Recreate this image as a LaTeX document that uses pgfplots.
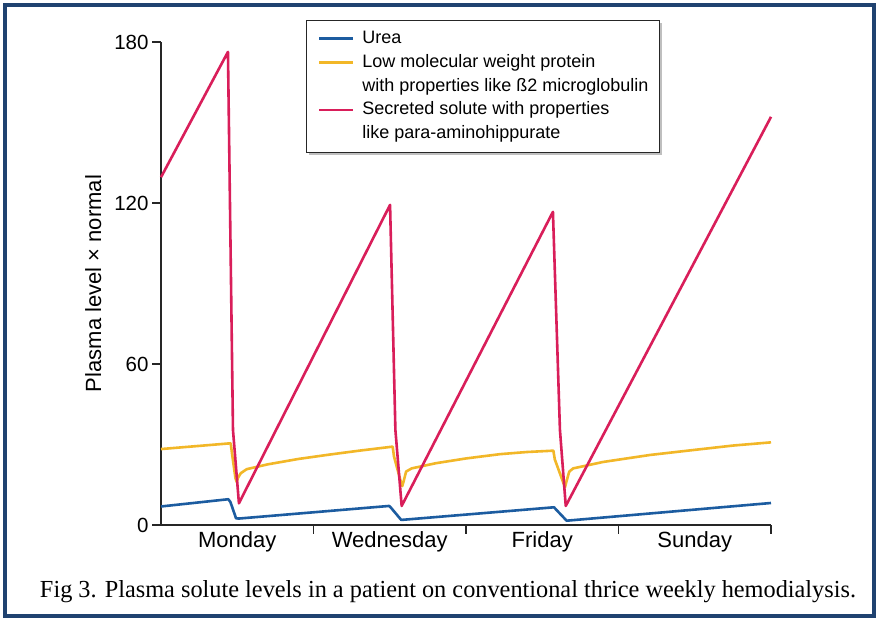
\documentclass[border=0pt]{standalone}
\usepackage{fontspec}
\setmainfont{Liberation Sans}
\newfontfamily\capfont{Liberation Serif}
\usepackage{pgfplots}
\pgfplotsset{compat=1.18}

\definecolor{urea}{RGB}{28,92,160}
\definecolor{lmw}{RGB}{242,183,40}
\definecolor{pah}{RGB}{217,30,90}
\definecolor{framec}{RGB}{32,66,112}

% two-line legend text, baseline on the first line
\newcommand{\twolines}[2]{\vtop{\hbox{\strut #1}\hbox{\strut #2}}}

\begin{document}
\begin{tikzpicture}[x=1bp,y=1bp]
\useasboundingbox (0,0) rectangle (879,624);
\fill[white] (0,0) rectangle (879,624);
\draw[line width=4bp, framec] (5,8) rectangle (874,619);

% legend shadow
\fill[black!25] (309,469) rectangle (662,601);

\begin{axis}[
    at={(161bp,99bp)}, anchor=south west,
    scale only axis, width=610bp, height=483bp,
    xmin=0, xmax=4, ymin=0, ymax=180,
    axis x line*=bottom, axis y line*=left,
    axis line style={-, line width=1.4bp, black!85},
    tick align=outside,
    major tick length=9bp,
    tick style={line width=1.4bp, black!85},
    xtick={1,2,3,4}, xticklabels={},
    extra x ticks={0.5,1.5,2.5,3.5},
    extra x tick labels={Monday,Wednesday,Friday,Sunday},
    extra x tick style={major tick length=0pt},
    ytick={0,60,120,180},
    /pgf/number format/assume math mode=true,
    xticklabel style={font=\fontsize{22bp}{26bp}\selectfont, yshift=-3bp},
    yticklabel style={font=\fontsize{20.5bp}{24bp}\selectfont},
    ylabel={Plasma level × normal},
    ylabel style={font=\fontsize{22bp}{26bp}\selectfont,
        at={(axis description cs:-0.111,0.5)}, anchor=center},
    legend style={
        at={(axis description cs:0.238,1.0455)}, anchor=north west,
        font=\fontsize{18bp}{23.75bp}\selectfont,
        draw=black!85, line width=1.2bp, fill=white,
        inner xsep=11bp, inner ysep=6.5bp,
        column sep=8bp,
        nodes={inner sep=0pt, text depth={}},
        cells={anchor=base west},
    },
    legend image code/.code={\draw[#1, line width=2.6bp] (0bp,5bp) -- (34bp,5bp);},
    clip=false,
]

% urea
\addplot[urea, line width=2.6bp, line join=round] coordinates {
    (0,6.9) (0.441,9.6) (0.455,8.6) (0.492,2.5) (0.51,2.4)
    (1.496,7.1) (1.51,6.3) (1.575,1.9) (1.60,2.0)
    (2.577,6.6) (2.59,5.8) (2.660,1.6) (2.68,1.7)
    (4,8.2)
};
\addlegendentry{\strut Urea}

% low molecular weight protein
\addplot[lmw, line width=2.6bp, line join=round] coordinates {
    (0,28.3) (0.457,30.45) (0.466,26.5) (0.488,17.5) (0.496,16.1) (0.505,17.6)
    (0.523,19.3) (0.562,20.8) (0.7,22.6) (0.9,24.6) (1.1,26.2) (1.3,27.7) (1.519,29.2)
    (1.528,25.5) (1.574,15.8) (1.582,14.5) (1.592,16.5)
    (1.607,19.9) (1.644,21.1) (1.8,23.0) (2.0,24.8) (2.223,26.4) (2.4,27.2) (2.573,27.7)
    (2.582,24.5) (2.641,15.3) (2.649,14.05) (2.660,16.5)
    (2.677,19.9) (2.703,21.1) (2.9,23.5) (3.207,26.1) (3.5,28.0) (3.75,29.6) (4,30.8)
};
\addlegendentry{\twolines{Low molecular weight protein}{with properties like ß2 microglobulin}}

% para-aminohippurate
\addplot[pah, line width=2.6bp, line join=round] coordinates {
    (0,129.6) (0.439,176.3) (0.472,35.4) (0.511,8.1)
    (1.502,119.3) (1.537,35.4) (1.578,7.1)
    (2.570,116.7) (2.616,35.4) (2.654,7.1)
    (4,152.1)
};
\addlegendentry{\twolines{Secreted solute with properties}{like para-aminohippurate}}

\end{axis}

\node[font=\capfont\fontsize{24.5bp}{28bp}\selectfont, anchor=base] at (448,26)
    {\resizebox{816bp}{\height}{Fig 3. Plasma solute levels in a patient on conventional thrice weekly hemodialysis.}};
\end{tikzpicture}
\end{document}
